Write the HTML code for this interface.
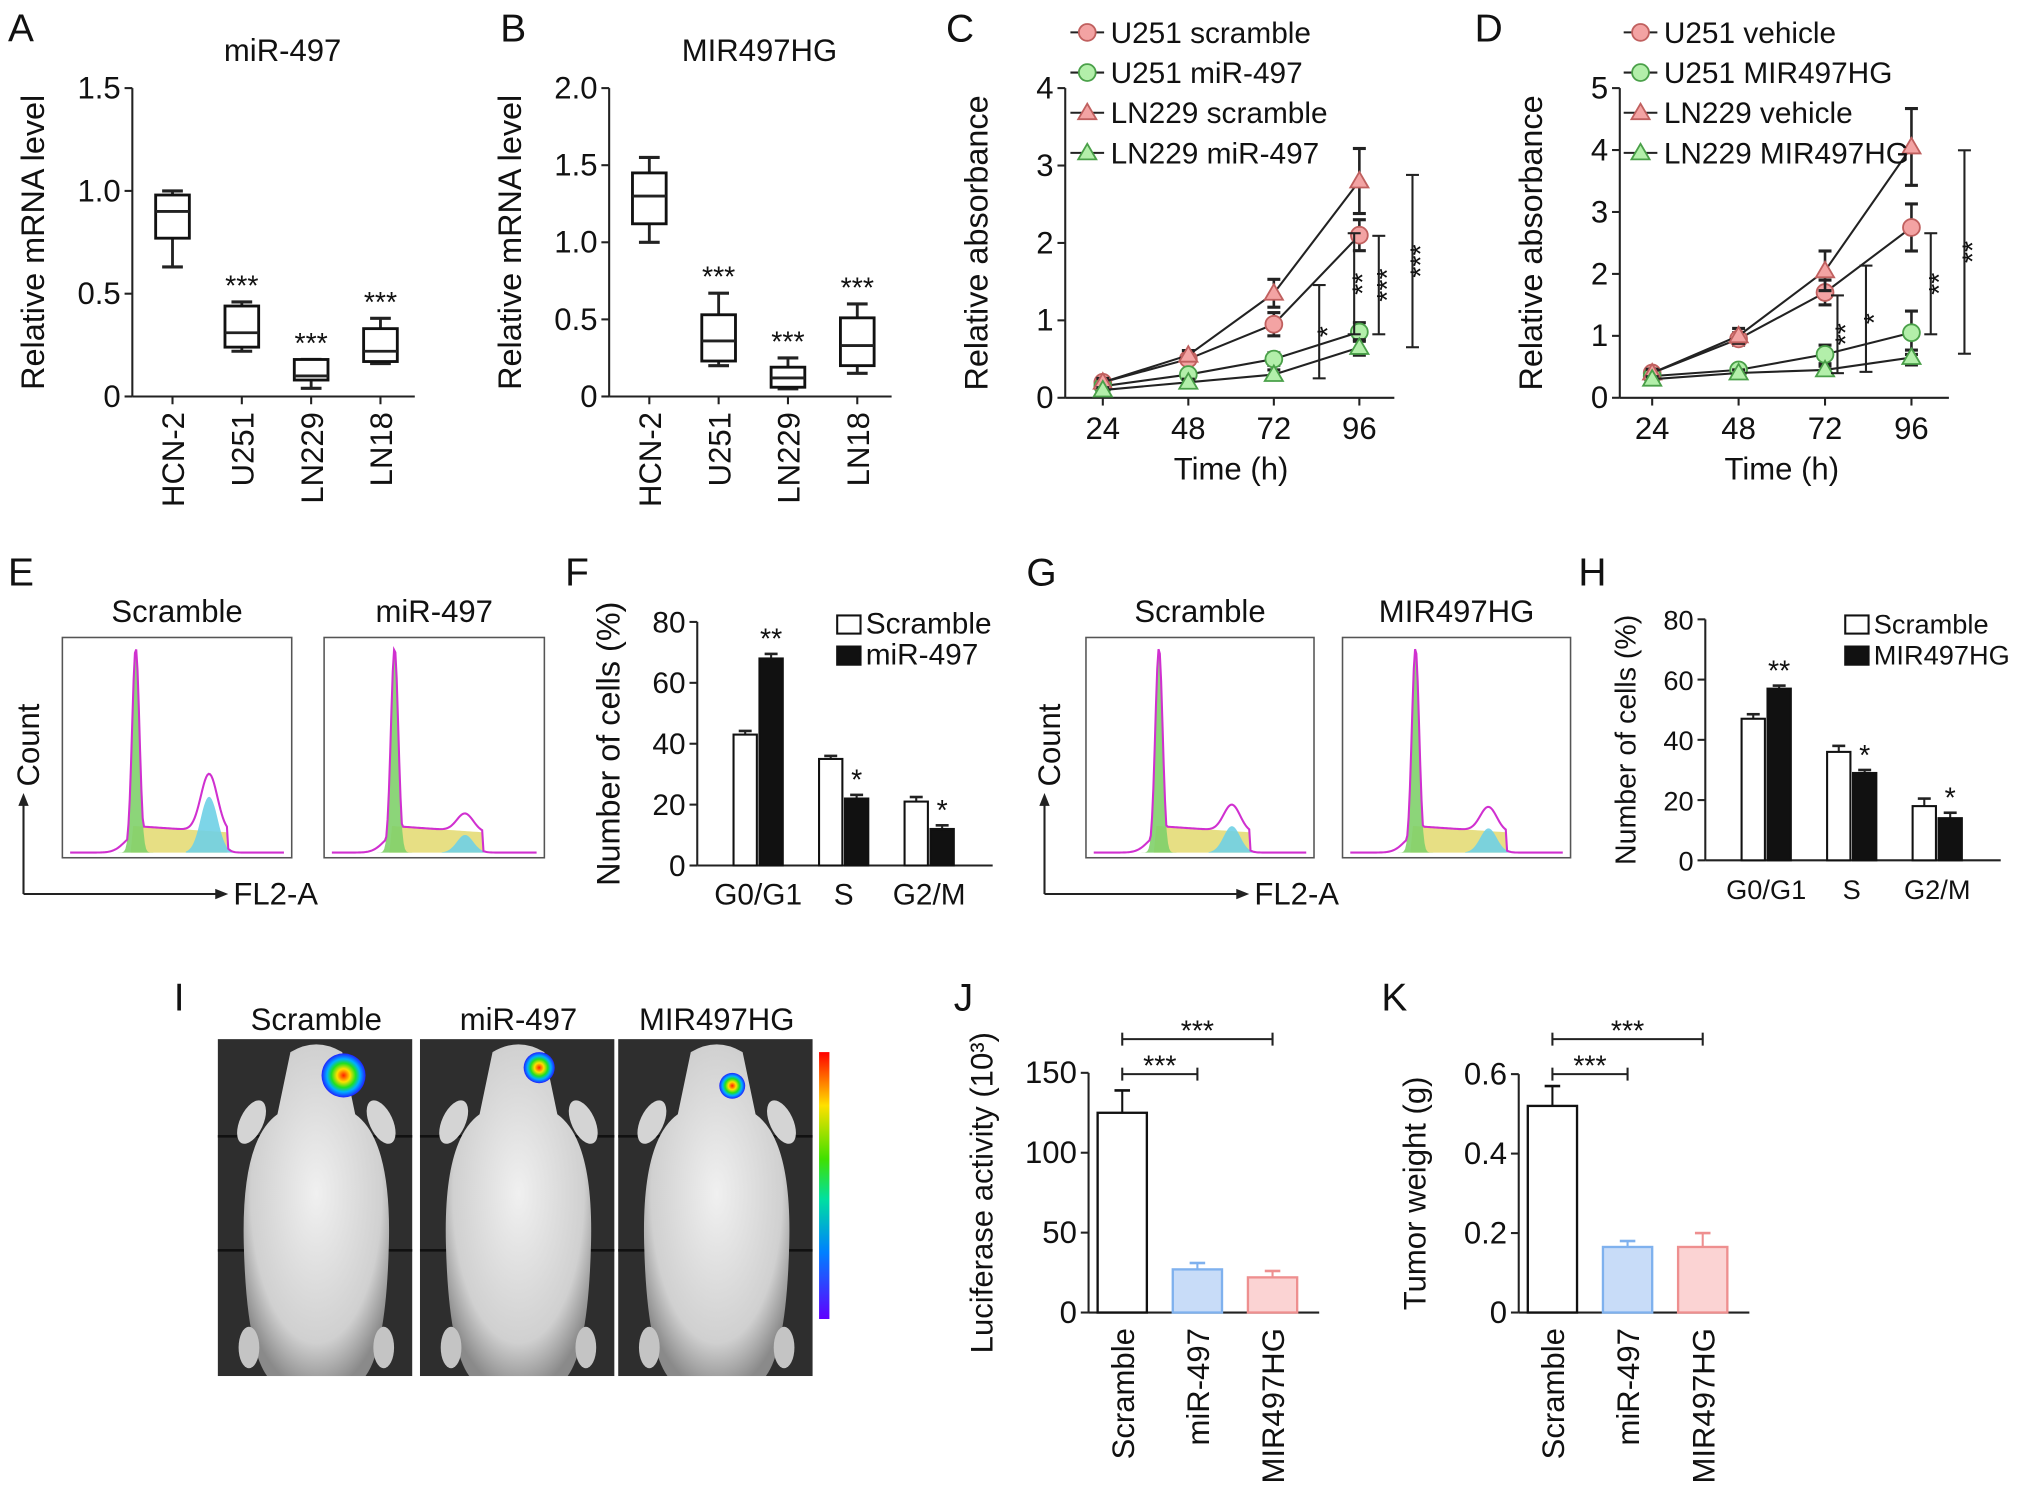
<!DOCTYPE html>
<html><head><meta charset="utf-8"><style>
html,body{margin:0;padding:0;background:#fff}
svg{display:block;font-family:"Liberation Sans",Arial,sans-serif}
</style></head><body>
<svg id="fig" width="2032" height="1503" viewBox="0 0 1568 1160" xmlns="http://www.w3.org/2000/svg">
<defs>
<radialGradient id="lum" cx="50%" cy="50%" r="50%">
<stop offset="0" stop-color="#ff2000"/><stop offset="0.3" stop-color="#ffe000"/><stop offset="0.55" stop-color="#20e020"/><stop offset="0.75" stop-color="#00b0ff"/><stop offset="1" stop-color="#2020ff"/>
</radialGradient>
<linearGradient id="cbar" x1="0" y1="1" x2="0" y2="0">
<stop offset="0" stop-color="#6000ff"/><stop offset="0.25" stop-color="#0080ff"/><stop offset="0.45" stop-color="#00e0a0"/><stop offset="0.6" stop-color="#40e000"/><stop offset="0.8" stop-color="#ffe000"/><stop offset="1" stop-color="#ff0000"/>
</linearGradient>
<radialGradient id="mouse" cx="50%" cy="45%" r="60%"><stop offset="0" stop-color="#f0f0f0"/><stop offset="0.75" stop-color="#d0d0d0"/><stop offset="1" stop-color="#8a8a8a"/></radialGradient>
</defs>
</svg>
<script>
// ---- data ----
const boxCats = ["HCN-2","U251","LN229","LN18"];
const boxA_min = [0.63,0.22,0.04,0.16];
const boxA_q1  = [0.77,0.24,0.08,0.17];
const boxA_med = [0.90,0.31,0.10,0.22];
const boxA_q3  = [0.98,0.44,0.18,0.33];
const boxA_max = [1.00,0.46,0.18,0.38];
const boxA_ticks = ["0","0.5","1.0","1.5"];
const boxB_min = [1.00,0.20,0.05,0.15];
const boxB_q1  = [1.12,0.23,0.06,0.20];
const boxB_med = [1.30,0.36,0.12,0.33];
const boxB_q3  = [1.45,0.53,0.19,0.51];
const boxB_max = [1.55,0.67,0.25,0.60];
const boxB_ticks = ["0","0.5","1.0","1.5","2.0"];
const boxSig = ["","***","***","***"];

const timeCats = ["24","48","72","96"];
const C_names = ["U251 scramble","U251 miR-497","LN229 scramble","LN229 miR-497"];
const C_s1 = [0.20,0.50,0.95,2.10];
const C_s2 = [0.15,0.30,0.50,0.85];
const C_s3 = [0.20,0.55,1.35,2.80];
const C_s4 = [0.10,0.20,0.30,0.65];
const C_e1 = [0.05,0.05,0.15,0.20];
const C_e2 = [0.04,0.05,0.08,0.12];
const C_e3 = [0.05,0.06,0.18,0.42];
const C_e4 = [0.03,0.04,0.06,0.10];
const C_ticks = ["0","1","2","3","4"];
const D_names = ["U251 vehicle","U251 MIR497HG","LN229 vehicle","LN229 MIR497HG"];
const D_s1 = [0.40,0.95,1.70,2.75];
const D_s2 = [0.35,0.45,0.70,1.05];
const D_s3 = [0.40,1.00,2.05,4.05];
const D_s4 = [0.30,0.40,0.45,0.65];
const D_e1 = [0.06,0.10,0.20,0.38];
const D_e2 = [0.05,0.06,0.15,0.35];
const D_e3 = [0.06,0.12,0.32,0.62];
const D_e4 = [0.04,0.05,0.06,0.12];
const D_ticks = ["0","1","2","3","4","5"];

const phaseCats = ["G0/G1","S","G2/M"];
const F_ctrl = [43,35,21];
const F_trt  = [68,22,12];
const F_ectrl = [1.2,1.0,1.5];
const F_etrt = [1.5,1.2,1.2];
const F_sig = ["**","*","*"];
const H_ctrl = [47,36,18];
const H_trt  = [57,29,14];
const H_ectrl = [1.5,2.0,2.5];
const H_etrt = [1.0,1.0,1.8];
const H_sig = ["**","*","*"];
const phaseTicks = ["0","20","40","60","80"];

const vivoCats = ["Scramble","miR-497","MIR497HG"];
const J_vals = [125,27,22];
const J_err  = [14,4,4];
const J_ticks = ["0","50","100","150"];
const K_vals = [0.52,0.165,0.165];
const K_err  = [0.05,0.015,0.035];
const K_ticks = ["0","0.2","0.4","0.6"];

// ---- helpers ----
const NS="http://www.w3.org/2000/svg";
const svg=document.getElementById('fig');
function mk(tag,attrs,name,parent){
  const el=document.createElementNS(NS,tag);
  for(const k in attrs) el.setAttribute(k,attrs[k]);
  
  
  (parent||svg).appendChild(el);
  return el;
}
function T(x,y,s,size,anchor,name,rot){
  const a={x:x,y:y,'font-size':size,'text-anchor':anchor||'middle',fill:'#111'};
  if(rot) a.transform='rotate('+rot+' '+x+' '+y+')';
  const t=mk('text',a,name);
  t.textContent=s;
  return t;
}
function L(x1,y1,x2,y2,name,w){return mk('line',{x1:x1,y1:y1,x2:x2,y2:y2,stroke:'#222','stroke-width':w||1.6},name);}
function letter(x,y,s){T(x,y,s,30,'start','panel-label-'+s.toLowerCase());}

function yAxis(ax,y0,yTop,maxV,ticks,title,titleX,fs,tfs){
  const sc=v=>y0-v/maxV*(y0-yTop);
  L(ax,y0,ax,yTop,'y-axis-line');
  ticks.forEach((t,i)=>{
    const v=maxV*i/(ticks.length-1);
    L(ax-6,sc(v),ax,sc(v),'y-tick');
    T(ax-9,sc(v)+8,t,fs||24,'end','y-tick-label');
  });
  T(titleX,(y0+yTop)/2,title,tfs||fs||24,'middle','y-axis-title',-90);
  return sc;
}

// ---- Box plots A, B ----
function boxPanel(ax,y0,yTop,maxV,ticks,mn,q1,md,q3,mx,title,letterX){
  letter(letterX,32,title==='miR-497'?'A':'B');
  T(ax+116,47,title,24,'middle','chart-title');
  const sc=yAxis(ax,y0,yTop,maxV,ticks,'Relative mRNA level',ax-68,24,25);
  L(ax,y0,ax+218,y0,'x-axis-line');
  boxCats.forEach((c,i)=>{
    const cx=ax+31+i*53.5, w=26;
    L(cx,y0,cx,y0+6,'x-tick');
    L(cx,sc(mx[i]),cx,sc(q3[i]),'whisker',2.2);
    L(cx,sc(q1[i]),cx,sc(mn[i]),'whisker',2.2);
    L(cx-8,sc(mx[i]),cx+8,sc(mx[i]),'whisker-cap',2.4);
    L(cx-8,sc(mn[i]),cx+8,sc(mn[i]),'whisker-cap',2.4);
    mk('rect',{x:cx-w/2,y:sc(q3[i]),width:w,height:sc(q1[i])-sc(q3[i]),fill:'#fff',stroke:'#111','stroke-width':2.2},'box-'+c.toLowerCase());
    L(cx-w/2,sc(md[i]),cx+w/2,sc(md[i]),'median-line',2.2);
    if(boxSig[i]) T(cx,sc(mx[i])-5,boxSig[i],22,'middle','significance-mark');
    T(cx+9,y0+12,c,24,'end','x-tick-label',-90);
  });
}
boxPanel(102,306,68,1.5,boxA_ticks,boxA_min,boxA_q1,boxA_med,boxA_q3,boxA_max,'miR-497',6);
boxPanel(470,306,68,2.0,boxB_ticks,boxB_min,boxB_q1,boxB_med,boxB_q3,boxB_max,'MIR497HG',386);

// ---- Line charts C, D ----
const PINK='#f3a3a3',PINKS='#c0605f',GREEN='#b3efaa',GREENS='#4aa049';
function marker(x,y,kind,fill,stroke,name){
  if(kind==='c') return mk('circle',{cx:x,cy:y,r:6.5,fill:fill,stroke:stroke,'stroke-width':1.4},name);
  return mk('polygon',{points:(x)+','+(y-7)+' '+(x-7)+','+(y+5)+' '+(x+7)+','+(y+5),fill:fill,stroke:stroke,'stroke-width':1.4},name);
}
function linePanel(ax,y0,yTop,maxV,ticks,x0,dx,series,errs,names,L_,lx){
  letter(L_==='C'?730:1138,32,L_);
  const sc=yAxis(ax,y0,yTop,maxV,ticks,'Relative absorbance',ax-60,24,25);
  const xs=i=>x0+i*dx;
  L(ax,y0,ax+254,y0,'x-axis-line');
  timeCats.forEach((t,i)=>{L(xs(i),y0,xs(i),y0+6,'x-tick');T(xs(i),y0+32,t,24,'middle','x-tick-label');});
  T(xs(1.5),y0+63,'Time (h)',24,'middle','x-axis-title');
  const kinds=['c','c','t','t'],fills=[PINK,GREEN,PINK,GREEN],strokes=[PINKS,GREENS,PINKS,GREENS];
  series.forEach((s,k)=>{
    mk('polyline',{points:s.map((v,i)=>xs(i)+','+sc(v)).join(' '),fill:'none',stroke:'#222','stroke-width':1.6},'series-line-'+k);
    s.forEach((v,i)=>{
      L(xs(i),sc(v+errs[k][i]),xs(i),sc(v-errs[k][i]),'error-bar',2);
      L(xs(i)-5,sc(v+errs[k][i]),xs(i)+5,sc(v+errs[k][i]),'error-cap',2.4);
      L(xs(i)-5,sc(v-errs[k][i]),xs(i)+5,sc(v-errs[k][i]),'error-cap',2.4);
    });
    s.forEach((v,i)=>marker(xs(i),sc(v),kinds[k],fills[k],strokes[k],'data-point'));
    const ly=25+k*31;
    L(lx,ly,lx+26,ly,'legend-line');
    marker(lx+13,ly,kinds[k],fills[k],strokes[k],'legend-marker');
    T(lx+31,ly+8,names[k],23,'start','legend-entry');
  });
  return {sc,xs};
}
linePanel(822,307,68,4,C_ticks,851,66,[C_s1,C_s2,C_s3,C_s4],[C_e1,C_e2,C_e3,C_e4],C_names,'C',826);
function sigBr(x,ya,yb,s,name){L(x,ya,x,yb,name);L(x-5,ya,x+5,ya,name);L(x-5,yb,x+5,yb,name);T(x+14,(ya+yb)/2,s,22,'middle','significance-mark',-90);}
sigBr(1018,220,292,'*','bracket-c1');
sigBr(1045,180,258,'**','bracket-c2');
sigBr(1064,182,258,'***','bracket-c3');
sigBr(1090,135,268,'***','bracket-c4');
linePanel(1250,307,68,5,D_ticks,1275,66.7,[D_s1,D_s2,D_s3,D_s4],[D_e1,D_e2,D_e3,D_e4],D_names,'D',1253);
sigBr(1418,228,288,'**','bracket-d1');
sigBr(1440,205,287,'*','bracket-d2');
sigBr(1490,180,258,'**','bracket-d3');
sigBr(1516,116,273,'**','bracket-d4');

// ---- Flow histograms E, G ----
function hist(x,y,w,h,g2,title,name){
  T(x+w/2,y-12,title,24,'middle','histogram-title');
  mk('rect',{x:x,y:y,width:w,height:h,fill:'#fff',stroke:'#555','stroke-width':1.2},name+'-frame');
  const base=y+h-4, px=x+w*0.32, g2x=x+w*0.64;
  const gp=xx=>Math.exp(-Math.pow((xx-px)/4,2))*(h-12);
  const sp=xx=>(xx>px-4&&xx<g2x+14)?Math.max(0,h*0.12-(xx-px)*0.07*h/w):0;
  const bp=xx=>Math.exp(-Math.pow((xx-g2x)/9,2))*g2*h;
  let green='M'+(px-14)+','+base, yel='M'+(px-4)+','+base, blue='M'+(g2x-18)+','+base, mag='M'+(x+6)+','+base;
  for(let xx=x+6;xx<=x+w-6;xx+=1){
    mag+=' L'+xx+','+(base-Math.max(gp(xx),sp(xx)+bp(xx),Math.exp(-Math.pow((xx-px)/12,2))*h*0.08));
  }
  for(let xx=px-14;xx<=px+14;xx+=1) green+=' L'+xx+','+(base-gp(xx)*0.98);
  green+=' L'+(px+14)+','+base+'Z';
  for(let xx=px-4;xx<=g2x+14;xx+=2) yel+=' L'+xx+','+(base-sp(xx));
  yel+=' L'+(g2x+14)+','+base+'Z';
  for(let xx=g2x-18;xx<=g2x+22;xx+=1) blue+=' L'+xx+','+(base-Math.min(bp(xx),bp(xx)*0.9+sp(xx)*0.2));
  blue+=' L'+(g2x+22)+','+base+'Z';
  mk('path',{d:yel,fill:'#e3d96e',opacity:0.85},name+'-s-phase');
  mk('path',{d:blue,fill:'#6fd0e6',opacity:0.9},name+'-g2-peak');
  mk('path',{d:green,fill:'#7fd06a',opacity:0.9},name+'-g1-peak');
  mk('path',{d:mag,fill:'none',stroke:'#d030d0','stroke-width':1.6},name+'-outline');
}
letter(6,452,'E');
hist(48,492,177,170,0.26,'Scramble','hist-scramble');
hist(250,492,170,170,0.08,'miR-497','hist-mir497');
L(18,618,18,690,'count-axis');L(18,690,170,690,'fl2-axis');
mk('polygon',{points:'18,612 14,622 22,622',fill:'#222'},'arrow');mk('polygon',{points:'176,690 166,686 166,694',fill:'#222'},'arrow');
T(30,575,'Count',24,'middle','y-axis-title',-90);T(180,698,'FL2-A',24,'start','x-axis-title');
letter(792,452,'G');
hist(838,492,176,170,0.12,'Scramble','hist-scramble-g');
hist(1036,492,176,170,0.11,'MIR497HG','hist-mir497hg');
L(806,618,806,690,'count-axis');L(806,690,958,690,'fl2-axis');
mk('polygon',{points:'806,612 802,622 810,622',fill:'#222'},'arrow');mk('polygon',{points:'964,690 954,686 954,694',fill:'#222'},'arrow');
T(818,575,'Count',24,'middle','y-axis-title',-90);T(968,698,'FL2-A',24,'start','x-axis-title');

// ---- Cell cycle bars F, H ----
function cyclePanel(ax,y0,yTop,ctrl,trt,ec,et,sig,legTrt,letterX,lx,fs,titleX,tfs){
  letter(letterX,452,letterX<1000?'F':'H');
  const sc=yAxis(ax,y0,yTop,80,phaseTicks,'Number of cells (%)',titleX,fs,tfs);
  L(ax,y0,ax+228,y0,'x-axis-line');
  phaseCats.forEach((c,i)=>{
    const cx=ax+47+i*66, w=18;
    [[ctrl[i],ec[i],'#fff',-w-1],[trt[i],et[i],'#111',1]].forEach((b,j)=>{
      const bx=cx+b[3];
      L(bx+w/2,sc(b[0]+b[1]),bx+w/2,sc(b[0]),'error-bar',1.6);
      L(bx+w/2-5,sc(b[0]+b[1]),bx+w/2+5,sc(b[0]+b[1]),'error-cap',2);
      mk('rect',{x:bx,y:sc(b[0]),width:w,height:y0-sc(b[0]),fill:b[2],stroke:'#111','stroke-width':1.6},'bar-'+c.toLowerCase().replace('/','-')+(j?'-treated':'-control'));
    });
    T(cx+10,sc(trt[i]+et[i])-4,sig[i],22,'middle','significance-mark');
    T(cx,y0+30,c,fs,'middle','x-tick-label');
  });
  mk('rect',{x:lx,y:475,width:18,height:14,fill:'#fff',stroke:'#111','stroke-width':1.6},'legend-swatch');
  T(lx+22,489,'Scramble',fs,'start','legend-entry');
  mk('rect',{x:lx,y:499,width:18,height:14,fill:'#111',stroke:'#111','stroke-width':1.6},'legend-swatch');
  T(lx+22,513,legTrt,fs,'start','legend-entry');
}
cyclePanel(538,668,480,F_ctrl,F_trt,F_ectrl,F_etrt,F_sig,'miR-497',436,646,23,478,25);
cyclePanel(1316,664,478,H_ctrl,H_trt,H_ectrl,H_etrt,H_sig,'MIR497HG',1218,1424,21,1262,22);

// ---- In vivo image I ----
letter(134,780,'I');
const imgX=[168,324,477];
const spot=[[265,830,17],[416,824,12],[565,838,10]];
vivoCats.forEach((c,i)=>{
  T(imgX[i]+76,795,c,24,'middle','image-title');
  const g=mk('g',{},'mouse-image-'+i);
  mk('rect',{x:imgX[i],y:802,width:150,height:260,fill:'#2e2e2e'},'image-background',g);
  mk('line',{x1:imgX[i],y1:877,x2:imgX[i]+150,y2:877,stroke:'#111','stroke-width':2},'image-line',g);
  mk('line',{x1:imgX[i],y1:965,x2:imgX[i]+150,y2:965,stroke:'#111','stroke-width':2},'image-line',g);
  const mx=imgX[i]+76;
  mk('path',{d:'M'+(mx-20)+',812 Q'+mx+',800 '+(mx+20)+',812 L'+(mx+30)+',860 Q'+(mx+58)+',880 '+(mx+56)+',960 Q'+(mx+54)+',1040 '+(mx+38)+',1062 L'+(mx-38)+',1062 Q'+(mx-54)+',1040 '+(mx-56)+',960 Q'+(mx-58)+',880 '+(mx-30)+',860 Z',fill:'url(#mouse)'},'mouse-body',g);
  mk('ellipse',{cx:mx-50,cy:866,rx:9,ry:18,fill:'#d4d4d4',transform:'rotate(25 '+(mx-50)+' 866)'},'mouse-paw',g);
  mk('ellipse',{cx:mx+50,cy:866,rx:9,ry:18,fill:'#d4d4d4',transform:'rotate(-25 '+(mx+50)+' 866)'},'mouse-paw',g);
  mk('ellipse',{cx:mx-52,cy:1040,rx:8,ry:16,fill:'#c4c4c4'},'mouse-paw',g);
  mk('ellipse',{cx:mx+52,cy:1040,rx:8,ry:16,fill:'#c4c4c4'},'mouse-paw',g);
  mk('circle',{cx:spot[i][0],cy:spot[i][1],r:spot[i][2],fill:'url(#lum)'},'luminescence-signal',g);
});
mk('rect',{x:632,y:812,width:8,height:206,fill:'url(#cbar)'},'color-scale-bar');

// ---- J, K bars ----
function vivoPanel(ax,y0,yTop,maxV,ticks,vals,errs,title,letterX,titleX,lab){
  letter(letterX,780,lab);
  const sc=yAxis(ax,y0,yTop,maxV,ticks,title,titleX,24,24);
  L(ax,y0,ax+178,y0,'x-axis-line');
  const strokes=['#111','#7fb1ee','#ee8f8f'],fills=['#fff','#c8dcf8','#fbd3d3'];
  vivoCats.forEach((c,i)=>{
    const cx=ax+26+i*58, w=38;
    L(cx,sc(vals[i]+errs[i]),cx,sc(vals[i]),'error-bar-'+c.toLowerCase(),1.6).setAttribute('stroke',strokes[i]);
    L(cx-6,sc(vals[i]+errs[i]),cx+6,sc(vals[i]+errs[i]),'error-cap',2).setAttribute('stroke',strokes[i]);
    mk('rect',{x:cx-w/2,y:sc(vals[i]),width:w,height:y0-sc(vals[i]),fill:fills[i],stroke:strokes[i],'stroke-width':1.8},'bar-'+c.toLowerCase());
    T(cx+9,y0+12,c,24,'end','x-tick-label',-90);
  });
  const c0=ax+26;
  L(c0,829,c0+58,829,'bracket');L(c0,824,c0,834,'bracket');L(c0+58,824,c0+58,834,'bracket');
  T(c0+29,830,'***',22,'middle','significance-mark');
  L(c0,802,c0+116,802,'bracket');L(c0,797,c0,807,'bracket');L(c0+116,797,c0+116,807,'bracket');
  T(c0+58,803,'***',22,'middle','significance-mark');
}
vivoPanel(840,1013,828,150,J_ticks,J_vals,J_err,'Luciferase activity (10³)',736,766,'J');
vivoPanel(1172,1013,829,0.6,K_ticks,K_vals,K_err,'Tumor weight (g)',1066,1100,'K');
</script>
</body></html>
